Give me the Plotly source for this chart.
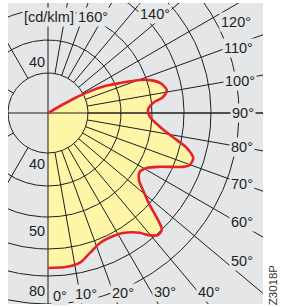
import numpy as np
import plotly.graph_objects as go

# ---------------- data ----------------
# luminous intensity curve: angle (deg, 0 = down, 90 = right, 180 = up) and value
curve_angle = [180, 120, 119, 117.7, 115.3, 112.6, 109.7, 107.9, 105, 100.9, 97.9,
               95.4, 91.7, 87.8, 82.9, 79.1, 75.9, 72.8, 69.9, 68.2, 64.3, 60.9,
               57.3, 53.6, 51, 47.9, 45.8, 44.3, 41.8, 39.1, 37.5, 32, 26.6, 21.8,
               16.7, 12, 7, 0]
curve_value = [0, 14, 31, 45, 63, 78, 98, 107, 116, 121, 116,
               105.5, 100, 102, 113, 127, 143, 152, 151, 145, 124, 113,
               109, 113, 122, 137, 153.5, 163, 164, 157, 151, 141.5, 139, 140,
               146, 153, 155, 155]

ring_values = [40, 73, 104, 136, 163, 191]
spoke_angles_right = list(range(10, 180, 10))
spoke_angles_left = [-30, -60, -120, -150]

angle_tick_text = ["0°", "10°", "20°", "30°", "40°", "50°", "60°", "70°", "80°",
                   "90°", "100°", "110°", "120°", "140°", "160°", "[cd/klm]"]
radial_tick_text = ["40", "40", "50", "80"]

# ---------------- layout / style ----------------
GRAY = "#e5e6e8"
YELLOW = "#fff5a6"
RED = "#e3222b"
INK = "#1e1e1e"
FONT = "Liberation Sans, Arial, sans-serif"
FS = 14.5

# label anchor positions (data units relative to the pole)
angle_label_pos = [(12, -183), (38, -181), (75, -180), (117, -179), (161, -179),
                   (194, -148), (194, -109), (194, -71), (194, -34), (195, 0),
                   (192, 32), (190, 65), (188, 91), (107, 99), (45, 96), (0.5, 96)]
radial_label_pos = [(-1, 51), (-1, -51), (-1, -118), (-1, -178)]
R_OUT = 420
R_IN = 40


def to_xy(theta_deg, r):
    t = np.radians(np.asarray(theta_deg, dtype=float))
    r = np.asarray(r, dtype=float)
    return r * np.sin(t), -r * np.cos(t)


fig = go.Figure()

# yellow area
cx, cy = to_xy(curve_angle, curve_value)
fig.add_trace(go.Scatter(x=cx, y=cy, mode="lines", fill="toself", fillcolor=YELLOW,
                         line=dict(width=0, shape="spline", smoothing=0.8),
                         hoverinfo="skip"))

# rings
gx, gy = [], []
tt = np.linspace(0, 360, 721)
for rv in ring_values:
    x, y = to_xy(tt, np.full_like(tt, rv))
    gx += list(x) + [None]
    gy += list(y) + [None]
# spokes
for a in spoke_angles_right + spoke_angles_left:
    x, y = to_xy([a, a], [R_IN, R_OUT])
    gx += list(x) + [None]
    gy += list(y) + [None]
# main axes through the pole
for a0, a1 in [(0, 180), (90, 270)]:
    x0, y0 = to_xy(a0, R_OUT)
    x1, y1 = to_xy(a1, R_OUT)
    gx += [x0, x1, None]
    gy += [y0, y1, None]
fig.add_trace(go.Scatter(x=gx, y=gy, mode="lines", line=dict(color=INK, width=1),
                         hoverinfo="skip"))

# red curve
fig.add_trace(go.Scatter(x=cx, y=cy, mode="lines",
                         line=dict(color=RED, width=2.6, shape="spline", smoothing=0.8),
                         hoverinfo="skip"))

ann = []
for txt, (x, y) in zip(angle_tick_text, angle_label_pos):
    ann.append(dict(x=x, y=y, xref="x", yref="y", text=txt, showarrow=False,
                    font=dict(family=FONT, size=FS, color=INK), bgcolor=GRAY,
                    borderpad=1, xanchor="center", yanchor="middle"))
for txt, (x, y) in zip(radial_tick_text, radial_label_pos):
    ann.append(dict(x=x, y=y, xref="x", yref="y", text=txt, showarrow=False,
                    font=dict(family=FONT, size=FS, color=INK), bgcolor=GRAY,
                    borderpad=1, xanchor="right", yanchor="middle"))
ann.append(dict(x=1.04, y=0.063, xref="paper", yref="paper", text="Z3018P",
                showarrow=False, textangle=-90,
                font=dict(family=FONT, size=11.5, color="#333333"),
                xanchor="center", yanchor="middle"))

fig.update_layout(
    width=281, height=307,
    margin=dict(l=8, r=18, t=3, b=3, pad=0),
    paper_bgcolor="white", plot_bgcolor=GRAY,
    showlegend=False,
    xaxis=dict(range=[-40, 215], visible=False, fixedrange=True),
    yaxis=dict(range=[-191, 110], visible=False, fixedrange=True),
    annotations=ann,
)

fig.write_html("out.html", config={"displayModeBar": False, "staticPlot": True},
               post_script="document.body.style.margin='0px';document.body.style.padding='0px';")
